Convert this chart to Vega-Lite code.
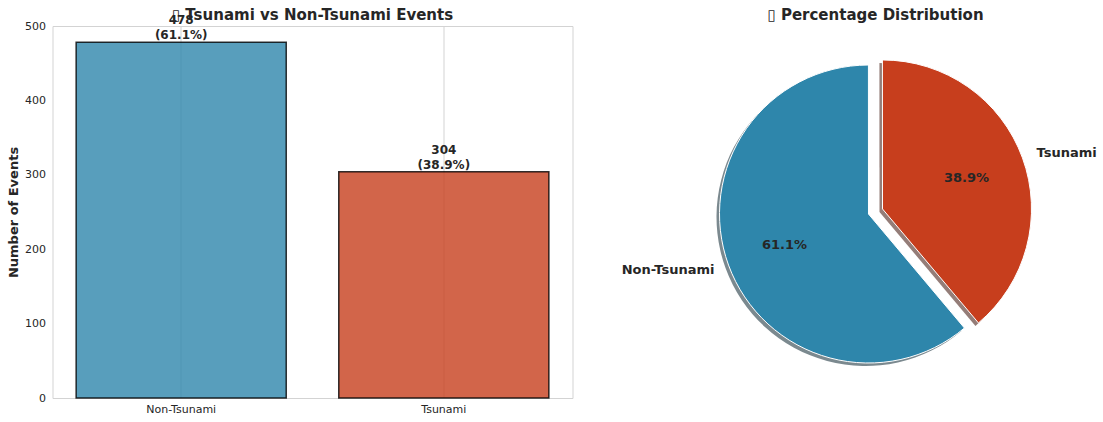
{
  "$schema": "https://vega.github.io/schema/vega-lite/v6.json",
  "background": "white",
  "padding": {"left": 6.5, "top": 7, "right": 3, "bottom": 5},
  "bounds": "flush",
  "spacing": 78,
  "datasets": {
    "events": [
      {"event": "Non-Tsunami", "count": 478, "pct": "61.1%", "label": "478\n(61.1%)", "cx": 0, "cy": 0},
      {"event": "Tsunami", "count": 304, "pct": "38.9%", "label": "304\n(38.9%)", "cx": 0.094, "cy": 0.034}
    ]
  },
  "hconcat": [
    {
      "width": 520,
      "height": 372,
      "data": {"name": "events"},
      "title": {"text": "\u25af Tsunami vs Non-Tsunami Events", "offset": -9},
      "encoding": {
        "x": {
          "field": "event",
          "type": "nominal",
          "scale": {"paddingInner": 0.2, "paddingOuter": 0.09},
          "axis": {"title": null, "labelAngle": 0, "grid": true, "ticks": false, "domain": false, "labelPadding": 5}
        }
      },
      "layer": [
        {
          "mark": {"type": "bar", "fillOpacity": 0.8, "stroke": "black", "strokeOpacity": 0.8, "strokeWidth": 1.5},
          "encoding": {
            "y": {
              "field": "count",
              "type": "quantitative",
              "scale": {"domain": [0, 500]},
              "axis": {"title": "Number of Events", "grid": false, "ticks": false, "domain": false, "values": [0, 100, 200, 300, 400, 500], "labelPadding": 7, "titleFontSize": 13, "titleFontWeight": "bold", "titlePadding": 4}
            },
            "color": {
              "field": "event",
              "type": "nominal",
              "scale": {"domain": ["Non-Tsunami", "Tsunami"], "range": ["#2E86AB", "#C73E1D"]},
              "legend": null
            }
          }
        },
        {
          "mark": {"type": "text", "baseline": "bottom", "lineBreak": "\n", "fontWeight": "bold", "fontSize": 12, "lineHeight": 15, "dy": -15, "color": "#262626"},
          "encoding": {
            "y": {"field": "count", "type": "quantitative"},
            "text": {"field": "label"}
          }
        }
      ]
    },
    {
      "width": 450,
      "height": 372,
      "data": {"name": "events"},
      "title": {"text": "\u25af Percentage Distribution", "offset": 3},
      "view": {"stroke": null},
      "transform": [
        {"stack": "count", "as": ["start", "end"]},
        {"calculate": "(datum.start + datum.end) / 2", "as": "mid"}
      ],
      "encoding": {
        "x": {"field": "cx", "type": "quantitative", "scale": {"domain": [-1.463, 1.557], "nice": false, "zero": false}, "axis": null},
        "y": {"field": "cy", "type": "quantitative", "scale": {"domain": [-1.235, 1.262], "nice": false, "zero": false}, "axis": null}
      },
      "layer": [
        {
          "mark": {"type": "arc", "outerRadius": 149, "xOffset": -3, "yOffset": 3, "opacity": 0.55},
          "encoding": {
            "theta": {"field": "start", "type": "quantitative", "scale": {"domain": [0, 782], "range": [-3.841, 2.442]}},
            "theta2": {"field": "end"},
            "fill": {
              "field": "event",
              "type": "nominal",
              "scale": {"domain": ["Non-Tsunami", "Tsunami"], "range": ["#0E2833", "#3C1309"]},
              "legend": null
            }
          }
        },
        {
          "mark": {"type": "arc", "outerRadius": 149, "stroke": "white", "strokeWidth": 1},
          "encoding": {
            "theta": {"field": "start", "type": "quantitative", "scale": {"domain": [0, 782], "range": [-3.841, 2.442]}},
            "theta2": {"field": "end"},
            "color": {
              "field": "event",
              "type": "nominal",
              "scale": {"domain": ["Non-Tsunami", "Tsunami"], "range": ["#2E86AB", "#C73E1D"]},
              "legend": null
            }
          }
        },
        {
          "mark": {"type": "text", "radius": 89.4, "fontWeight": "bold", "fontSize": 13, "color": "#262626"},
          "encoding": {
            "theta": {"field": "mid", "type": "quantitative", "scale": {"domain": [0, 782], "range": [-3.841, 2.442]}},
            "text": {"field": "pct"}
          }
        },
        {
          "transform": [{"filter": "datum.event === 'Non-Tsunami'"}],
          "mark": {"type": "text", "radius": 164, "align": "right", "fontWeight": "bold", "fontSize": 13, "color": "#262626"},
          "encoding": {
            "theta": {"field": "mid", "type": "quantitative", "scale": {"domain": [0, 782], "range": [-3.841, 2.442]}},
            "text": {"field": "event"}
          }
        },
        {
          "transform": [{"filter": "datum.event === 'Tsunami'"}],
          "mark": {"type": "text", "radius": 164, "align": "left", "fontWeight": "bold", "fontSize": 13, "color": "#262626"},
          "encoding": {
            "theta": {"field": "mid", "type": "quantitative", "scale": {"domain": [0, 782], "range": [-3.841, 2.442]}},
            "text": {"field": "event"}
          }
        }
      ]
    }
  ],
  "config": {
    "font": "DejaVu Sans",
    "view": {"stroke": "#d3d3d3", "strokeWidth": 1},
    "title": {"fontSize": 15, "fontWeight": "bold", "color": "#262626", "anchor": "middle"},
    "axis": {"gridColor": "#d3d3d3", "gridWidth": 1, "labelColor": "#262626", "labelFontSize": 11, "titleColor": "#262626"}
  }
}
